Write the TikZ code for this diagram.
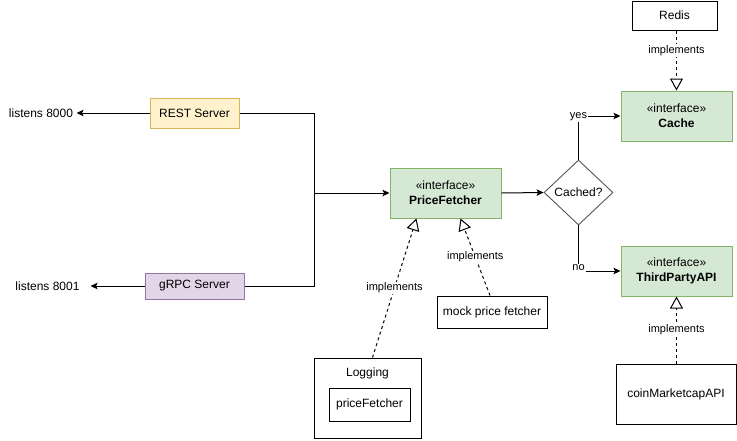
\documentclass[tikz,border=0pt]{standalone}
\usepackage{fontspec}
\setmainfont{Liberation Sans}
\usetikzlibrary{arrows.meta,shapes.geometric,calc}
\definecolor{restfill}{HTML}{FFF2CC}
\definecolor{restdraw}{HTML}{D6B656}
\definecolor{grpcfill}{HTML}{E1D5E7}
\definecolor{grpcdraw}{HTML}{9673A6}
\definecolor{ifill}{HTML}{D5E8D4}
\definecolor{idraw}{HTML}{82B366}
\definecolor{diadraw}{HTML}{555555}
\begin{document}
\begin{tikzpicture}[x=1pt,y=-1pt,
  every node/.style={font=\fontsize{12}{15}\selectfont},
  box/.style={draw, rectangle, inner sep=0pt, line width=1pt, align=center},
  restbox/.style={box, fill=restfill, draw=restdraw},
  grpcbox/.style={box, fill=grpcfill, draw=grpcdraw},
  ibox/.style={box, fill=ifill, draw=idraw, minimum width=111pt, minimum height=50pt},
  lbl/.style={fill=white, inner sep=1pt, font=\fontsize{11}{13}\selectfont},
  txt/.style={inner sep=3.33pt},
  arr/.style={line width=1pt, -{Stealth[length=7pt,width=6.5pt,inset=1.5pt]}},
  conn/.style={line width=1pt},
  impl/.style={line width=1pt, dash pattern=on 3pt off 3pt, -{Triangle[length=12pt,width=13pt,fill=white]}}
]
\useasboundingbox (0,0) rectangle (737,440);

% nodes
\node[restbox, minimum width=89pt, minimum height=30pt] (rest) at (194.5,113) {REST Server};
\node[grpcbox, minimum width=99pt, minimum height=26pt] (grpc) at (194.5,286) {gRPC Server};
\node[txt] (l8000) at (41,113) {listens 8000};
\node[txt] (l8001) at (47.5,286) {listens 8001};
\node[ibox] (pf) at (445.5,193) {«interface»\\\textbf{PriceFetcher}};
\node[ibox] (cache) at (676.5,116) {«interface»\\\textbf{Cache}};
\node[ibox] (tpa) at (676.5,271) {«interface»\\\textbf{ThirdPartyAPI}};
\node[draw=diadraw, diamond, line width=0.9pt, inner sep=0pt, minimum width=69pt, minimum height=65pt] (dia) at (578.5,192.5) {Cached?};
\node[box, minimum width=85pt, minimum height=29pt] (redis) at (674.5,15.5) {Redis};
\node[box, minimum width=120pt, minimum height=60pt] (coin) at (676,394) {coinMarketcapAPI};
\node[box, minimum width=110pt, minimum height=32pt] (mock) at (492,312) {mock price fetcher};
\node[box, minimum width=107pt, minimum height=80pt] (log) at (367.5,398) {};
\node[txt] (logt) at (367.5,373) {Logging};
\node[box, minimum width=81pt, minimum height=33pt] (inner) at (369.5,404.5) {priceFetcher};

% connectors
\draw[arr] (rest.west) -- (l8000.east);
\draw[arr, shorten >=7.5pt] (grpc.west) -- (l8001.east);
\coordinate (j) at (314,193);
\draw[conn] (rest.east) -| (j);
\draw[conn] (grpc.east) -| (j);
\draw[arr] (j) -- (pf.west);
\draw[arr] (pf.east) -- (dia.west);
\draw[arr] (dia.north) |- node[lbl, pos=0.5, yshift=-1pt] {yes} (cache.west);
\draw[arr] (dia.south) |- node[lbl, pos=0.5, yshift=3pt] {no} (tpa.west);
\draw[impl] (redis.south -| cache.north) -- node[lbl, pos=0.3, yshift=-2pt] {implements} (cache.north);
\draw[impl] (coin.north -| tpa.south) -- node[lbl, pos=0.5] {implements} (tpa.south);
\draw[impl] ($(mock.north)+(-2,0)$) -- node[lbl, pos=0.5] {implements} ($(pf.south)+(15,0)$);
\draw[impl] ($(log.north)+(5,0)$) -- node[lbl, pos=0.5] {implements} ($(pf.south)+(-29,0)$);
\end{tikzpicture}
\end{document}
